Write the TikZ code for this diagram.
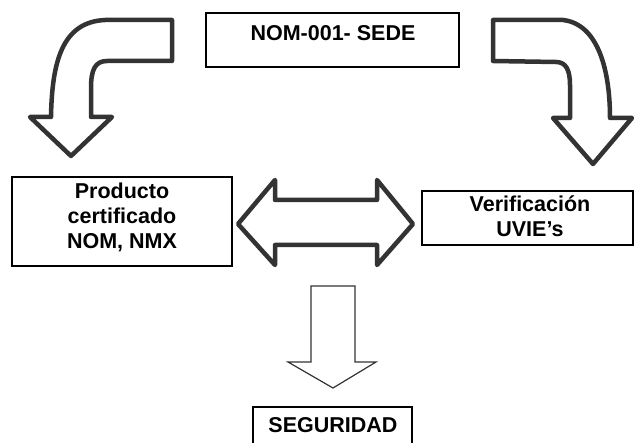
\documentclass[tikz,border=0pt]{standalone}
\usepackage{fontspec}
\setmainfont{Liberation Sans}
\begin{document}
\begin{tikzpicture}[x=1pt,y=-1pt,
  box/.style={draw=black,line width=2pt,fill=white,inner sep=0pt},
  lbl/.style={font=\bfseries\fontsize{21.5}{25}\selectfont,align=center,inner sep=0pt},
  bigarrow/.style={draw=black!80,line width=4.5pt,line join=round,line cap=round,fill=white},
  thinarrow/.style={draw=black!80,line width=1.2pt,line join=miter,fill=white}]
\useasboundingbox (0,0) rectangle (635,443);
% boxes
\node[box,minimum width=253pt,minimum height=54pt] (topbox) at (332.5,40) {};
\node[lbl] (toptext) at (333,33) {NOM-001- SEDE};
\node[box,minimum width=220pt,minimum height=89pt] (leftbox) at (122,221.5) {};
\node[lbl] (lefttext) at (122,217) {Producto\\certificado\\NOM, NMX};
\node[box,minimum width=211pt,minimum height=54pt] (rightbox) at (527.5,218) {};
\node[lbl] (righttext) at (530,216) {Verificación\\UVIE’s};
\node[box,minimum width=159pt,minimum height=40pt] (secbox) at (332.5,427) {};
\node[lbl] (sectext) at (333,425) {SEGURIDAD};
% left curved arrow
\draw[bigarrow] (172,20) -- (105,20) .. controls (62,22) and (52,62) .. (51,117)
  -- (30,117) -- (71,156) -- (112,117) -- (91,117) -- (91,88)
  .. controls (91,70) and (95,61) .. (107,61) -- (172,61) -- cycle;
% right curved arrow
\draw[bigarrow] (493,20) -- (563,20) .. controls (598,24) and (610,70) .. (610,118)
  -- (632,118) -- (593,164) -- (553,118) -- (570,118) -- (570,85)
  .. controls (570,70) and (566,62) .. (556,62) -- (493,61) -- cycle;
% double arrow
\draw[bigarrow] (238,224) -- (275,180) -- (275,200) -- (377,200) -- (377,180)
  -- (413,224) -- (377,265) -- (377,245) -- (275,245) -- (275,265) -- cycle;
% down arrow
\draw[thinarrow] (311,286) -- (355,286) -- (355,362) -- (376,362) -- (333,388)
  -- (288,362) -- (311,362) -- cycle;
\end{tikzpicture}
\end{document}
